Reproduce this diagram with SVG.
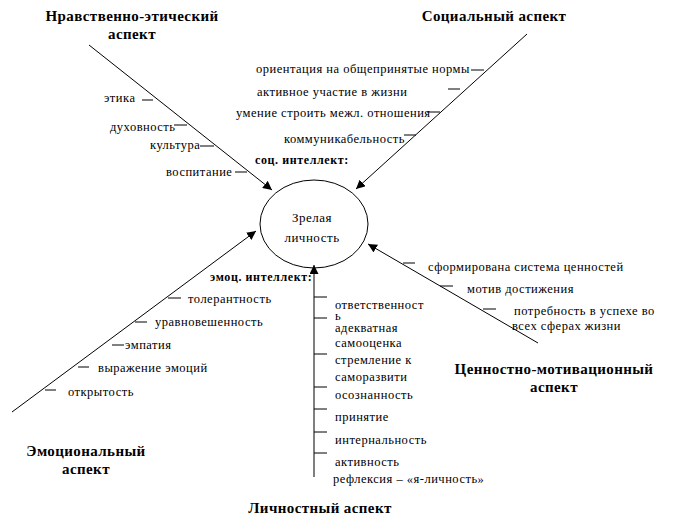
<svg xmlns="http://www.w3.org/2000/svg" width="673" height="529" viewBox="0 0 673 529">
<defs>
<marker id="ah" viewBox="0 0 10 10" refX="10" refY="5" markerWidth="9" markerHeight="9" markerUnits="userSpaceOnUse" orient="auto">
<path d="M0,0 L10,5 L0,10 z" fill="#000"/>
</marker>
<style>
.t{font-family:"Liberation Serif","Times New Roman",serif;font-size:12.5px;letter-spacing:0.5px;fill:#000}
.b{font-family:"Liberation Serif","Times New Roman",serif;font-size:12px;font-weight:bold;letter-spacing:0.6px;fill:#000}
.h{font-family:"Liberation Serif","Times New Roman",serif;font-size:15px;font-weight:bold;letter-spacing:0.4px;fill:#000;text-anchor:middle}
.c{font-family:"Liberation Serif","Times New Roman",serif;font-size:13px;letter-spacing:0.5px;fill:#000;text-anchor:middle}
.ln{stroke:#000;stroke-width:1;fill:none}
.ar{stroke:#000;stroke-width:1;fill:none;marker-end:url(#ah)}
</style>
</defs>
<rect width="673" height="529" fill="#fff"/>

<g id="connectors">
<line class="ar" x1="89" y1="45" x2="272" y2="190"/>
<line class="ar" x1="527" y1="34" x2="356" y2="189"/>
<line class="ar" x1="12" y1="412" x2="256" y2="231"/>
<line class="ar" x1="314" y1="477" x2="314" y2="265"/>
<line class="ar" x1="538" y1="343" x2="368" y2="244"/>
</g>

<g id="node-center">
<ellipse cx="314" cy="224" rx="54" ry="44" class="ln"/>
<text class="c" x="312" y="222">Зрелая</text>
<text class="c" x="312" y="242">личность</text>
</g>

<g id="node-moral">
<text class="h" x="132" y="21">Нравственно-этический</text>
<text class="h" x="132" y="39">аспект</text>
<line class="ln" x1="142" y1="100" x2="153" y2="100"/>
<text class="t" x="104" y="102">этика</text>
<line class="ln" x1="174" y1="125" x2="187" y2="125"/>
<text class="t" x="110" y="131">духовность</text>
<line class="ln" x1="200" y1="146" x2="214" y2="146"/>
<text class="t" x="150" y="149">культура</text>
<line class="ln" x1="235" y1="172" x2="247" y2="172"/>
<text class="t" x="166" y="176">воспитание</text>
</g>

<g id="node-social">
<text class="h" x="494" y="21">Социальный аспект</text>
<line class="ln" x1="471" y1="70" x2="484" y2="70"/>
<text class="t" x="256" y="73">ориентация на общепринятые нормы</text>
<line class="ln" x1="448" y1="89" x2="460" y2="89"/>
<text class="t" x="257" y="96">активное участие в жизни</text>
<line class="ln" x1="427" y1="112" x2="440" y2="112"/>
<text class="t" x="236" y="117">умение строить межл. отношения</text>
<line class="ln" x1="404" y1="135" x2="416" y2="135"/>
<text class="t" x="284" y="143">коммуникабельность</text>
<text class="b" x="255" y="164">соц. интеллект:</text>
</g>

<g id="node-emotional">
<text class="h" x="86" y="456">Эмоциональный</text>
<text class="h" x="86" y="474">аспект</text>
<text class="b" x="210" y="281">эмоц. интеллект:</text>
<line class="ln" x1="168" y1="298" x2="181" y2="298"/>
<text class="t" x="188" y="303">толерантность</text>
<line class="ln" x1="135" y1="322" x2="147" y2="322"/>
<text class="t" x="155" y="326">уравновешенность</text>
<line class="ln" x1="112" y1="345" x2="124" y2="345"/>
<text class="t" x="125" y="349">эмпатия</text>
<line class="ln" x1="78" y1="367" x2="89" y2="367"/>
<text class="t" x="98" y="372">выражение эмоций</text>
<line class="ln" x1="45" y1="390" x2="56" y2="390"/>
<text class="t" x="68" y="396">открытость</text>
</g>

<g id="node-personal">
<text class="h" x="320" y="513">Личностный аспект</text>
<line class="ln" x1="314" y1="297" x2="327" y2="297"/>
<line class="ln" x1="314" y1="318" x2="327" y2="318"/>
<line class="ln" x1="314" y1="354" x2="327" y2="354"/>
<line class="ln" x1="314" y1="387" x2="327" y2="387"/>
<line class="ln" x1="314" y1="409" x2="327" y2="409"/>
<line class="ln" x1="314" y1="432" x2="327" y2="432"/>
<line class="ln" x1="314" y1="453" x2="327" y2="453"/>
<text class="t" x="335" y="309">ответственност</text>
<text class="t" x="335" y="320">ь</text>
<text class="t" x="335" y="332">адекватная</text>
<text class="t" x="335" y="347">самооценка</text>
<text class="t" x="335" y="364">стремление к</text>
<text class="t" x="335" y="381">саморазвити</text>
<text class="t" x="335" y="399">осознанность</text>
<text class="t" x="335" y="421">принятие</text>
<text class="t" x="335" y="444">интернальность</text>
<text class="t" x="335" y="466">активность</text>
<text class="t" x="333" y="483">рефлексия – «я-личность»</text>
</g>

<g id="node-value">
<text class="h" x="554" y="374">Ценностно-мотивационный</text>
<text class="h" x="554" y="392">аспект</text>
<line class="ln" x1="403" y1="263" x2="415" y2="263"/>
<text class="t" x="428" y="271">сформирована система ценностей</text>
<line class="ln" x1="440" y1="286" x2="453" y2="286"/>
<text class="t" x="467" y="293">мотив достижения</text>
<line class="ln" x1="483" y1="309" x2="496" y2="309"/>
<text class="t" x="514" y="315">потребность в успехе во</text>
<text class="t" x="512" y="330">всех сферах жизни</text>
</g>
</svg>
